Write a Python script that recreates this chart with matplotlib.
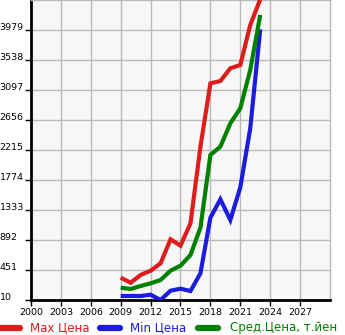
import matplotlib
matplotlib.use("Agg")
import matplotlib.pyplot as plt
from matplotlib.lines import Line2D

years = [2009, 2010, 2011, 2012, 2013, 2014, 2015, 2016, 2017, 2018, 2019, 2020, 2021, 2022, 2023]
max_price = [338, 264, 378, 441, 549, 902, 808, 1137, 2264, 3195, 3229, 3416, 3465, 4053, 4430]
min_price = [69, 69, 69, 88, 10, 147, 176, 142, 402, 1220, 1490, 1186, 1667, 2534, 3989]
avg_price = [191, 172, 216, 255, 304, 441, 514, 672, 1073, 2142, 2264, 2607, 2828, 3391, 4200]

x_ticks = [2000, 2003, 2006, 2009, 2012, 2015, 2018, 2021, 2024, 2027]
y_ticks = [10, 451, 892, 1333, 1774, 2215, 2656, 3097, 3538, 3979]

series_labels = ["Max Цена", "Min Цена", "Сред.Цена, т.йен"]
colors = ["#dd1c1c", "#1c1cdd", "#008000"]

W, H = 345, 335
fig = plt.figure(figsize=(W / 100, H / 100), dpi=100)
ax = fig.add_axes([31 / W, 1 - 300 / H, 299 / W, 300 / H])
ax.set_facecolor("#f7f7f7")

for vals, c in zip([max_price, min_price, avg_price], colors):
    ax.plot(years, vals, color=c, lw=3.0, solid_capstyle="butt", solid_joinstyle="miter", zorder=3)

ax.set_xlim(2000, 2030)
ax.set_ylim(10, 4420)
ax.set_xticks(x_ticks)
ax.set_yticks(y_ticks)
ax.set_xticklabels([str(t) for t in x_ticks], fontsize=6.8)
ax.set_yticklabels([str(t) for t in y_ticks], fontsize=6.8)
ax.grid(True, color="#bbbbbb", lw=1)
ax.set_axisbelow(True)
ax.tick_params(axis="x", length=4, width=1, direction="out", pad=2)
ax.tick_params(axis="y", length=4, width=1, direction="out", pad=(30 - 4) * 0.72)
for lab in ax.get_yticklabels():
    lab.set_horizontalalignment("left")
    lab.set_verticalalignment("baseline")

for s in ["top", "right"]:
    ax.spines[s].set_color("#bbbbbb")
    ax.spines[s].set_linewidth(1)
for s in ["left", "bottom"]:
    ax.spines[s].set_color("black")
    ax.spines[s].set_linewidth(2)

# legend row beneath the axes
legend_y = 1 - 328 / H
entries = [(0, 30), (100, 130), (198, 230)]
for (hx, tx), lab, c in zip(entries, series_labels, colors):
    fig.add_artist(Line2D([hx / W, (hx + 20) / W], [legend_y, legend_y],
                          color=c, lw=4.5, solid_capstyle="round", transform=fig.transFigure))
    fig.text(tx / W, legend_y, lab, color=c, fontsize=8.5, va="center", ha="left")

fig.savefig("out.png", dpi=100)
